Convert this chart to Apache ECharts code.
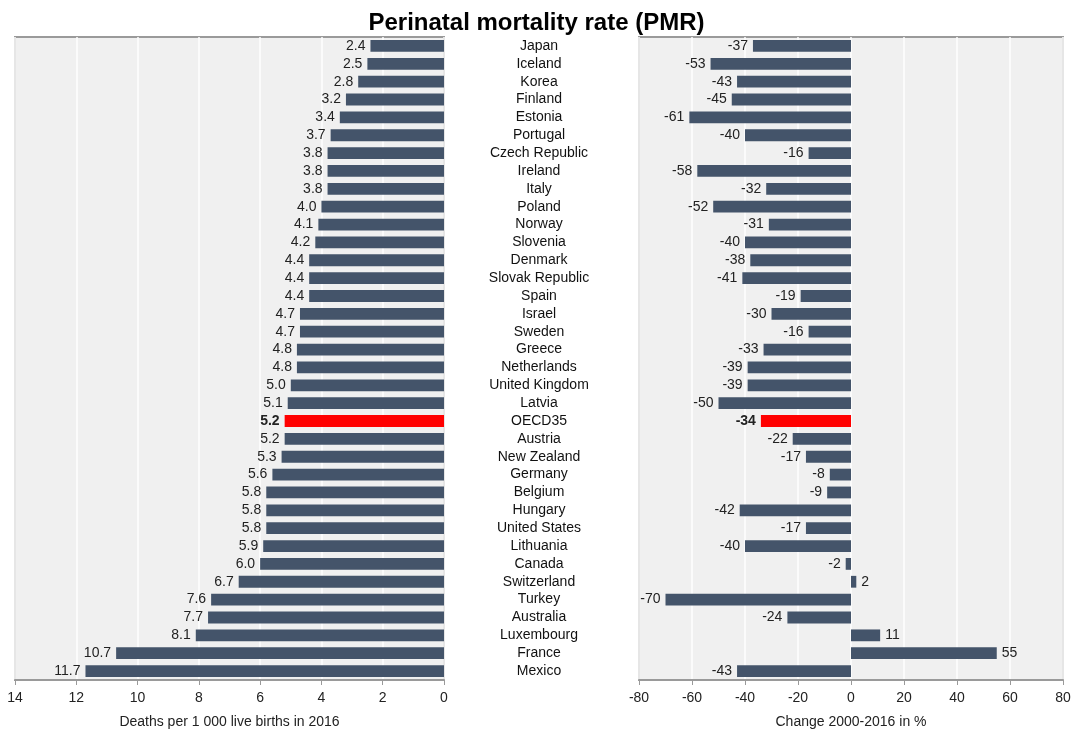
<!DOCTYPE html>
<html><head><meta charset="utf-8">
<script src="https://cdn.jsdelivr.net/npm/echarts@6/dist/echarts.min.js"></script>
<style>html,body{margin:0;padding:0;background:#fff}#c{width:1073px;height:732px}</style>
</head><body><div id="c"></div>
<script>
const countries = ["Japan","Iceland","Korea","Finland","Estonia","Portugal","Czech Republic","Ireland","Italy","Poland","Norway","Slovenia","Denmark","Slovak Republic","Spain","Israel","Sweden","Greece","Netherlands","United Kingdom","Latvia","OECD35","Austria","New Zealand","Germany","Belgium","Hungary","United States","Lithuania","Canada","Switzerland","Turkey","Australia","Luxembourg","France","Mexico"];
const pmr2016 = [2.4,2.5,2.8,3.2,3.4,3.7,3.8,3.8,3.8,4.0,4.1,4.2,4.4,4.4,4.4,4.7,4.7,4.8,4.8,5.0,5.1,5.2,5.2,5.3,5.6,5.8,5.8,5.8,5.9,6.0,6.7,7.6,7.7,8.1,10.7,11.7];
const change2000_2016 = [-37,-53,-43,-45,-61,-40,-16,-58,-32,-52,-31,-40,-38,-41,-19,-30,-16,-33,-39,-39,-50,-34,-22,-17,-8,-9,-42,-17,-40,-2,2,-70,-24,11,55,-43];
const highlight = "OECD35";

const FONT = "Liberation Sans, Arial, sans-serif";
const BAR = "#44546a", RED = "#ff0000";
const chart = echarts.init(document.getElementById('c'));

const leftData = pmr2016.map((v,i)=>({
  value: v,
  itemStyle:{color: countries[i]===highlight?RED:BAR},
  label:{fontWeight: countries[i]===highlight?'bold':'normal'}
}));
const rightData = change2000_2016.map((v,i)=>({
  value: v,
  itemStyle:{color: countries[i]===highlight?RED:BAR},
  label:{position: v<0?'left':'right', fontWeight: countries[i]===highlight?'bold':'normal'}
}));

const axisCommon = {
  axisLine:{show:true,lineStyle:{color:'#9a9a9a',width:2}},
  axisTick:{show:true,length:5,lineStyle:{color:'#9a9a9a'}},
  splitLine:{show:true,lineStyle:{color:'#fff',width:1.5}},
  axisLabel:{color:'#222',fontSize:14,fontFamily:FONT,margin:11},
  nameLocation:'middle',nameGap:35,
  nameTextStyle:{color:'#222',fontSize:14,fontFamily:FONT}
};

chart.setOption({
  animation:false,
  title:{text:'Perinatal mortality rate (PMR)',left:'center',top:6,
    textStyle:{fontSize:24,fontWeight:'bold',color:'#000',fontFamily:FONT}},
  grid:[
    {left:15,right:629,top:37,bottom:52,show:true,backgroundColor:'#f0f0f0',borderColor:'#9a9a9a',borderWidth:2,outerBoundsMode:'none',containLabel:false},
    {left:639,right:10,top:37,bottom:52,show:true,backgroundColor:'#f0f0f0',borderColor:'#9a9a9a',borderWidth:2,outerBoundsMode:'none',containLabel:false}
  ],
  xAxis:[
    Object.assign({},axisCommon,{gridIndex:0,type:'value',inverse:true,min:0,max:14,interval:2,
      name:'Deaths per 1 000 live births in 2016'}),
    Object.assign({},axisCommon,{gridIndex:1,type:'value',min:-80,max:80,interval:20,
      name:'Change 2000-2016 in %'})
  ],
  yAxis:[
    {gridIndex:0,type:'category',data:countries,inverse:true,position:'right',
      axisLine:{show:false},axisTick:{show:false},
      axisLabel:{interval:0,align:'center',margin:95,color:'#111',fontSize:14,fontFamily:FONT,hideOverlap:false}},
    {gridIndex:1,type:'category',data:countries,inverse:true,
      axisLine:{show:false},axisTick:{show:false},axisLabel:{show:false}}
  ],
  series:[
    {type:'bar',xAxisIndex:0,yAxisIndex:0,data:leftData,barWidth:'66%',
      label:{show:true,position:'left',distance:5,color:'#222',fontSize:14,fontFamily:FONT,
        formatter:p=>p.value.toFixed(1)}},
    {type:'bar',xAxisIndex:1,yAxisIndex:1,data:rightData,barWidth:'66%',
      label:{show:true,distance:5,color:'#222',fontSize:14,fontFamily:FONT}}
  ]
});
</script></body></html>
